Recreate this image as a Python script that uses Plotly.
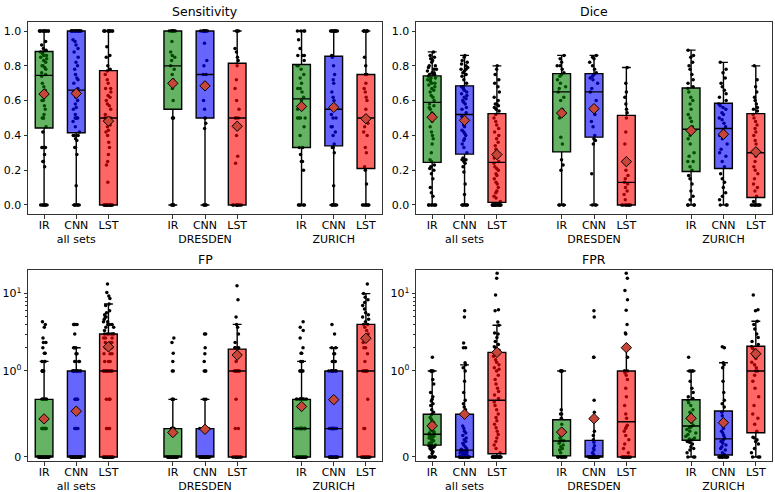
import numpy as np
import plotly.graph_objects as go

METHODS = ["IR", "CNN", "LST"]
SETS = ["all sets", "DRESDEN", "ZURICH"]
PANEL_TITLES = ["Sensitivity", "Dice", "FP", "FPR"]

# ---------------- Sensitivity ----------------
S_ALL_IR = [0.0]*7 + [0.22, 0.25, 0.25, 0.29, 0.33, 0.33, 0.33, 0.42, 0.45, 0.5, 0.5,
            0.5, 0.52, 0.55, 0.57, 0.6, 0.6, 0.62, 0.64, 0.66, 0.68, 0.7, 0.74, 0.75,
            0.76, 0.78, 0.79, 0.8, 0.8, 0.82, 0.83, 0.84, 0.85, 0.86, 0.86, 0.87, 0.88, 0.88,
            0.89, 0.9, 0.92, 0.94] + [1.0]*11
S_ALL_CNN = [0.0]*6 + [0.11, 0.29, 0.33, 0.33, 0.37, 0.38, 0.4, 0.4, 0.4, 0.42, 0.45, 0.48,
             0.5, 0.5, 0.5, 0.5, 0.52, 0.55, 0.56, 0.58, 0.6, 0.62, 0.64, 0.65, 0.67, 0.7,
             0.72, 0.73, 0.75, 0.78, 0.8, 0.82, 0.85, 0.88, 0.9, 0.92, 0.94, 0.95] + [1.0]*16
S_ALL_LST = [0.0]*16 + [0.13, 0.23, 0.25, 0.29, 0.33, 0.36, 0.4, 0.42, 0.43, 0.45, 0.46, 0.48,
             0.5, 0.5, 0.5, 0.52, 0.55, 0.57, 0.58, 0.6, 0.62, 0.63, 0.65, 0.67, 0.67, 0.7,
             0.72, 0.75, 0.77, 0.78, 0.8, 0.85, 0.86, 0.91] + [1.0]*10
S_D_IR = [0.0]*4 + [0.5, 0.5, 0.5, 0.6, 0.67, 0.7, 0.72, 0.75, 0.78, 0.8, 0.83, 0.85, 0.86,
          0.88, 0.94] + [1.0]*8
S_D_CNN = [0.0]*4 + [0.44, 0.47, 0.5, 0.5, 0.55, 0.6, 0.67, 0.7, 0.75, 0.75, 0.8, 0.83,
           0.93] + [1.0]*10
S_D_LST = [0.0]*9 + [0.24, 0.28, 0.4, 0.5, 0.5, 0.5, 0.55, 0.6, 0.67, 0.72, 0.8, 0.83, 0.85,
           0.88, 0.9] + [1.0]*3
S_Z_IR = [0.0]*5 + [0.2, 0.25, 0.25, 0.29, 0.33, 0.33, 0.4, 0.45, 0.5, 0.5, 0.5, 0.5, 0.55,
          0.57, 0.6, 0.62, 0.65, 0.67, 0.67, 0.7, 0.73, 0.75, 0.78, 0.8, 0.8, 0.83, 0.86,
          0.86, 0.86, 0.9, 0.95] + [1.0]*4
S_Z_CNN = [0.0]*6 + [0.11, 0.3, 0.33, 0.33, 0.35, 0.4, 0.42, 0.45, 0.45, 0.5, 0.5, 0.52,
           0.55, 0.55, 0.57, 0.6, 0.62, 0.65, 0.7, 0.72, 0.75, 0.8, 0.85, 0.86] + [1.0]*9
S_Z_LST = [0.0]*7 + [0.12, 0.2, 0.22, 0.3, 0.33, 0.4, 0.42, 0.45, 0.47, 0.5, 0.5, 0.5, 0.55,
           0.6, 0.62, 0.65, 0.67, 0.7, 0.75, 0.75, 0.8, 0.85] + [1.0]*6

# ---------------- Dice ----------------
D_ALL_IR = [0.0]*7 + [0.05, 0.07, 0.1, 0.15, 0.18, 0.2, 0.21, 0.22, 0.23, 0.25, 0.26, 0.3,
            0.35, 0.38, 0.4, 0.42, 0.45, 0.48, 0.5, 0.52, 0.53, 0.55, 0.56, 0.57, 0.58, 0.6,
            0.62, 0.63, 0.65, 0.66, 0.67, 0.68, 0.69, 0.7, 0.7, 0.71, 0.72, 0.72, 0.73, 0.73,
            0.74, 0.75, 0.75, 0.76, 0.76, 0.77, 0.78, 0.78, 0.79, 0.8, 0.8, 0.82, 0.83, 0.84,
            0.85, 0.86, 0.88]
D_ALL_CNN = [0.0]*6 + [0.06, 0.12, 0.19, 0.22, 0.24, 0.25, 0.26, 0.26, 0.27, 0.3, 0.33, 0.35,
             0.37, 0.38, 0.4, 0.41, 0.42, 0.43, 0.45, 0.46, 0.48, 0.5, 0.5, 0.51, 0.53, 0.55,
             0.56, 0.58, 0.59, 0.6, 0.61, 0.62, 0.63, 0.64, 0.65, 0.66, 0.67, 0.68, 0.68, 0.7,
             0.72, 0.74, 0.75, 0.76, 0.77, 0.78, 0.78, 0.79, 0.8, 0.81, 0.82, 0.83, 0.85, 0.86]
D_ALL_LST = [0.0]*15 + [0.02, 0.04, 0.05, 0.07, 0.08, 0.1, 0.12, 0.13, 0.15, 0.17, 0.18, 0.2,
             0.21, 0.22, 0.24, 0.25, 0.27, 0.29, 0.3, 0.32, 0.34, 0.36, 0.38, 0.4, 0.42, 0.44,
             0.46, 0.48, 0.5, 0.52, 0.54, 0.55, 0.56, 0.57, 0.58, 0.58, 0.6, 0.62, 0.65, 0.68,
             0.7, 0.72, 0.75, 0.78, 0.8]
D_D_IR = [0.0]*4 + [0.2, 0.23, 0.26, 0.35, 0.39, 0.5, 0.55, 0.6, 0.62, 0.65, 0.67, 0.68, 0.7,
          0.72, 0.74, 0.75, 0.76, 0.78, 0.8, 0.8, 0.82, 0.84, 0.86]
D_D_CNN = [0.0]*3 + [0.18, 0.35, 0.37, 0.38, 0.4, 0.45, 0.48, 0.52, 0.55, 0.6, 0.65, 0.67, 0.7,
           0.72, 0.73, 0.74, 0.75, 0.76, 0.78, 0.8, 0.82, 0.84, 0.85, 0.86]
D_D_LST = [0.0]*8 + [0.03, 0.06, 0.08, 0.1, 0.12, 0.13, 0.15, 0.17, 0.2, 0.35, 0.42, 0.5, 0.53,
           0.55, 0.58, 0.62, 0.65, 0.7, 0.79]
D_Z_IR = [0.0]*4 + [0.03, 0.05, 0.08, 0.12, 0.15, 0.17, 0.2, 0.22, 0.25, 0.25, 0.28, 0.3, 0.35,
          0.38, 0.4, 0.42, 0.45, 0.48, 0.5, 0.52, 0.55, 0.58, 0.6, 0.62, 0.65, 0.67, 0.68, 0.7,
          0.72, 0.75, 0.78, 0.8, 0.82, 0.85, 0.86, 0.89]
D_Z_CNN = [0.0]*3 + [0.03, 0.05, 0.07, 0.1, 0.13, 0.15, 0.18, 0.22, 0.25, 0.28, 0.3, 0.32,
           0.35, 0.38, 0.4, 0.41, 0.43, 0.45, 0.47, 0.49, 0.5, 0.52, 0.53, 0.55, 0.56, 0.57,
           0.58, 0.6, 0.62, 0.64, 0.66, 0.68, 0.7, 0.73, 0.76, 0.78, 0.82]
D_Z_LST = [0.0]*9 + [0.02, 0.05, 0.08, 0.1, 0.12, 0.15, 0.18, 0.2, 0.22, 0.25, 0.28, 0.32,
           0.35, 0.37, 0.4, 0.42, 0.44, 0.46, 0.48, 0.5, 0.52, 0.54, 0.55, 0.56, 0.58, 0.6,
           0.62, 0.65, 0.68, 0.72, 0.8]

# ---------------- FP ----------------
FP_ALL_IR = [0.0]*62 + [0.33]*10 + [0.67]*8 + [1.0]*6 + [1.33]*3 + [1.7, 1.7, 2.0, 2.33,
             2.33, 2.67, 3.67, 4.0, 4.33]
FP_ALL_CNN = [0.0]*56 + [0.33]*4 + [0.67]*4 + [1.0]*10 + [1.33]*3 + [1.67]*2 + [2.0]*3 + \
             [3.0] + [4.0]*4
FP_ALL_LST = [0.0]*26 + [0.33]*4 + [0.67]*4 + [1.0]*16 + [1.33]*3 + [1.67]*3 + [2.0]*5 + \
             [2.33]*3 + [2.67]*3 + [3.0]*6 + [3.33, 3.67, 3.67, 4.0, 4.0, 4.0, 4.33, 4.33,
                                             4.67, 5.0, 5.0, 5.33, 5.67, 6.0, 7.0, 7.33,
                                             8.67, 9.33, 10.33, 13.33]
FP_D_IR = [0.0]*35 + [0.33]*10 + [0.67]*3 + [1.0]*2 + [1.33, 1.7, 2.33, 2.67]
FP_D_CNN = [0.0]*38 + [0.33]*14 + [0.67]*2 + [1.0]*3 + [1.33, 1.67, 2.0, 3.0, 3.0]
FP_D_LST = [0.0]*12 + [0.33]*2 + [0.67] + [1.0]*10 + [1.33] + [1.67]*2 + [2.0]*3 + \
           [2.33, 3.0, 3.67, 4.0, 5.0, 8.33, 12.67]
FP_Z_IR = [0.0]*24 + [0.33]*22 + [0.67]*16 + [1.0]*4 + [1.33]*2 + [1.7, 1.7, 2.0, 2.67, 3.33,
                                                                  3.67, 4.33]
FP_Z_CNN = [0.0]*15 + [0.33]*15 + [0.67]*8 + [1.0]*10 + [1.33]*2 + [1.67]*2 + [2.0]*2 + \
           [3.0, 4.0]
FP_Z_LST = [0.0]*13 + [0.33]*2 + [0.67] + [1.0]*9 + [1.33, 1.67, 2.0, 2.0, 2.33, 2.67, 2.67,
                                                     3.0, 3.33, 3.67, 4.0, 4.0, 4.33, 4.67,
                                                     5.0, 5.33, 5.67, 6.33, 7.0, 7.67, 8.33,
                                                     9.0, 10.0, 13.33]

# ---------------- FPR ----------------
FPR_ALL_IR = [0.0]*6 + [0.04, 0.06, 0.08, 0.1, 0.11, 0.12, 0.12, 0.13, 0.13, 0.14, 0.15, 0.16,
              0.17, 0.18, 0.19, 0.2, 0.21, 0.22, 0.23, 0.24, 0.24, 0.25, 0.25, 0.26, 0.27,
              0.28, 0.29, 0.3, 0.31, 0.33, 0.34, 0.35, 0.37, 0.38, 0.4, 0.42, 0.44, 0.46,
              0.49, 0.52, 0.55, 0.6, 0.62, 0.65, 0.67, 0.7, 0.75, 0.85, 0.9, 1.0, 1.0, 1.0,
              1.0, 1.5]
FPR_ALL_CNN = [0.0]*17 + [0.01, 0.02, 0.03, 0.03, 0.04, 0.04, 0.05, 0.05, 0.06, 0.06, 0.07,
               0.07, 0.08, 0.08, 0.09, 0.1, 0.12, 0.14, 0.16, 0.18, 0.2, 0.22, 0.25, 0.28,
               0.3, 0.33, 0.36, 0.48, 0.55, 0.58, 0.62, 0.66, 0.75, 0.88, 1.0, 1.1, 1.2, 1.28,
               2.0, 2.0, 2.3, 5.0, 6.0]
FPR_ALL_LST = [0.0]*15 + [0.05, 0.1, 0.14, 0.18, 0.22, 0.26, 0.3, 0.34, 0.38, 0.42, 0.46, 0.5,
               0.55, 0.6, 0.64, 0.68, 0.72, 0.76, 0.8, 0.85, 0.9, 0.95, 1.0, 1.05, 1.1, 1.2,
               1.3, 1.4, 1.55, 1.7, 1.85, 1.95, 2.05, 2.2, 2.4, 2.7, 3.0, 3.1, 3.9, 4.3, 6.0,
               6.2, 9.6, 15.8, 18.3]
FPR_D_IR = [0.0]*8 + [0.05, 0.08, 0.1, 0.12, 0.14, 0.16, 0.18, 0.19, 0.2, 0.22, 0.25, 0.28,
            0.32, 0.38, 0.45, 0.5, 0.5, 0.55, 1.0, 1.0, 1.0, 1.0]
FPR_D_CNN = [0.0]*22 + [0.03, 0.05, 0.08, 0.1, 0.13, 0.17, 0.2, 0.25, 0.3, 0.45, 0.52, 0.66,
             1.5, 1.5, 5.0, 6.0]
FPR_D_LST = [0.0]*12 + [0.05, 0.1, 0.15, 0.2, 0.25, 0.3, 0.33, 0.35, 0.37, 0.45, 0.5, 0.6,
             0.7, 0.8, 0.9, 0.95, 0.98, 1.0, 1.0, 1.0, 1.5, 2.0, 3.0, 3.1, 4.0, 6.1, 8.3,
             11.0, 15.8, 18.3]
FPR_Z_IR = [0.0]*3 + [0.05, 0.08, 0.1, 0.12, 0.15, 0.17, 0.18, 0.2, 0.21, 0.22, 0.24, 0.26,
            0.28, 0.3, 0.32, 0.34, 0.35, 0.37, 0.4, 0.42, 0.45, 0.5, 0.52, 0.55, 0.6, 0.63,
            0.66, 0.68, 0.7, 0.75, 0.8, 0.88, 1.0, 1.0, 1.0, 1.0, 1.5]
FPR_Z_CNN = [0.0]*10 + [0.03, 0.05, 0.08, 0.1, 0.12, 0.14, 0.16, 0.18, 0.19, 0.2, 0.22, 0.25,
             0.28, 0.3, 0.33, 0.36, 0.4, 0.44, 0.48, 0.52, 0.58, 0.62, 0.66, 0.75, 0.88, 1.1,
             1.2, 1.28, 2.0, 2.05]
FPR_Z_LST = [0.0]*3 + [0.05, 0.1, 0.15, 0.18, 0.2, 0.22, 0.23, 0.3, 0.38, 0.45, 0.5, 0.6, 0.7,
             0.8, 0.88, 0.95, 1.0, 1.0, 1.1, 1.2, 1.3, 1.45, 1.55, 1.7, 1.85, 1.95, 2.05, 2.2,
             2.4, 2.7, 3.0, 3.5, 4.0, 4.4, 6.0, 6.2, 9.6]

PANEL_DATA = [
    {"all sets": {"IR": S_ALL_IR, "CNN": S_ALL_CNN, "LST": S_ALL_LST},
     "DRESDEN": {"IR": S_D_IR, "CNN": S_D_CNN, "LST": S_D_LST},
     "ZURICH": {"IR": S_Z_IR, "CNN": S_Z_CNN, "LST": S_Z_LST}},
    {"all sets": {"IR": D_ALL_IR, "CNN": D_ALL_CNN, "LST": D_ALL_LST},
     "DRESDEN": {"IR": D_D_IR, "CNN": D_D_CNN, "LST": D_D_LST},
     "ZURICH": {"IR": D_Z_IR, "CNN": D_Z_CNN, "LST": D_Z_LST}},
    {"all sets": {"IR": FP_ALL_IR, "CNN": FP_ALL_CNN, "LST": FP_ALL_LST},
     "DRESDEN": {"IR": FP_D_IR, "CNN": FP_D_CNN, "LST": FP_D_LST},
     "ZURICH": {"IR": FP_Z_IR, "CNN": FP_Z_CNN, "LST": FP_Z_LST}},
    {"all sets": {"IR": FPR_ALL_IR, "CNN": FPR_ALL_CNN, "LST": FPR_ALL_LST},
     "DRESDEN": {"IR": FPR_D_IR, "CNN": FPR_D_CNN, "LST": FPR_D_LST},
     "ZURICH": {"IR": FPR_Z_IR, "CNN": FPR_Z_CNN, "LST": FPR_Z_LST}},
]
PANEL_SYMLOG = [False, False, True, True]

FILL = {"IR": "rgba(0,128,0,0.6)", "CNN": "rgba(0,0,255,0.6)", "LST": "rgba(255,0,0,0.6)"}
MEAN_COLOR = "rgb(200,70,55)"
FONT = "DejaVu Sans"

LINSCALE = 1.0 / (1.0 - 1.0 / 10.0)  # matplotlib symlog, linthresh=1, linscale=1


def symlog(v):
    v = np.asarray(v, dtype=float)
    return np.where(v <= 1.0, v * LINSCALE, LINSCALE + np.log10(np.maximum(v, 1.0)))


def ident(v):
    return np.asarray(v, dtype=float)


def box_stats(vals):
    a = np.asarray(vals, dtype=float)
    q1, med, q3 = np.percentile(a, [25, 50, 75])
    iqr = q3 - q1
    lo = a[a >= q1 - 1.5 * iqr].min()
    hi = a[a <= q3 + 1.5 * iqr].max()
    return q1, med, q3, lo, hi, a.mean()


def position(si, mi):
    return 1 + 4 * si + mi


W, H = 775, 492
XDOM = [[28 / W, 382 / W], [416 / W, 772 / W]]
YDOM = [[1 - 214 / H, 1 - 22 / H], [1 - 461 / H, 1 - 270 / H]]
XRANGE = [0.5, 11.5]
YRANGE_LIN = [-0.052, 1.052]
YRANGE_LOG = [-0.052, 2.416]

fig = go.Figure()
layout = {}
annotations = []

tickvals_x = [position(si, mi) for si in range(3) for mi in range(3)]
ticktext_x = []
for s in SETS:
    for m in METHODS:
        ticktext_x.append(m + "<br>" + s if m == "CNN" else m)

for k in range(1, 5):
    data = PANEL_DATA[k - 1]
    tf = symlog if PANEL_SYMLOG[k - 1] else ident
    xd = XDOM[(k - 1) % 2]
    yd = YDOM[(k - 1) // 2]
    xa = "x" if k == 1 else f"x{k}"
    ya = "y" if k == 1 else f"y{k}"
    xo, yo = f"x{k + 4}", f"y{k + 4}"
    yr = YRANGE_LOG if PANEL_SYMLOG[k - 1] else YRANGE_LIN

    # jittered sample points (under the boxes)
    for si, s in enumerate(SETS):
        for mi, m in enumerate(METHODS):
            vals = data[s][m]
            pos = position(si, mi)
            fig.add_trace(go.Box(
                x=[pos] * len(vals), y=tf(vals), boxpoints="all", jitter=0.6, pointpos=0,
                width=0.55, fillcolor="rgba(0,0,0,0)", line=dict(width=0, color="rgba(0,0,0,0)"),
                marker=dict(color="black", size=3.5), xaxis=xa, yaxis=ya,
                showlegend=False, hoverinfo="skip"))

    # boxes on an overlay subplot, drawn above the points
    for mi, m in enumerate(METHODS):
        xs, q1s, meds, q3s, los, his, means = [], [], [], [], [], [], []
        for si, s in enumerate(SETS):
            q1, med, q3, lo, hi, mean = box_stats(data[s][m])
            xs.append(position(si, mi))
            q1s.append(float(tf([q1])[0]))
            meds.append(float(tf([med])[0]))
            q3s.append(float(tf([q3])[0]))
            los.append(float(tf([lo])[0]))
            his.append(float(tf([hi])[0]))
            means.append(float(tf([mean])[0]))
        fig.add_trace(go.Box(
            x=xs, q1=q1s, median=meds, q3=q3s, lowerfence=los, upperfence=his,
            orientation="v", boxpoints=False, width=0.55, whiskerwidth=0.5,
            fillcolor=FILL[m], line=dict(color="black", width=1.4),
            xaxis=xo, yaxis=yo, showlegend=False, hoverinfo="skip"))
        fig.add_trace(go.Scatter(
            x=xs, y=means, mode="markers",
            marker=dict(symbol="diamond", size=8, color=MEAN_COLOR,
                        line=dict(color="black", width=1)),
            xaxis=xo, yaxis=yo, showlegend=False, hoverinfo="skip"))

    axis_common = dict(showline=True, linecolor="#333", linewidth=1, mirror=True,
                       ticks="outside", ticklen=3.5, tickcolor="#333", showgrid=False,
                       zeroline=False, automargin=False,
                       tickfont=dict(family=FONT, size=11, color="black"))
    layout["xaxis" if k == 1 else f"xaxis{k}"] = dict(
        domain=xd, range=XRANGE, anchor=ya, tickmode="array", tickvals=tickvals_x,
        ticktext=ticktext_x, tickangle=0, ticklabelstandoff=-3, **axis_common)
    if PANEL_SYMLOG[k - 1]:
        yt = dict(tickmode="array", tickvals=list(symlog([0, 1, 10])),
                  ticktext=["0", "10<sup>0</sup>", "10<sup>1</sup>"],
                  minor=dict(tickmode="array", tickvals=list(symlog([2, 3, 4, 5, 6, 7, 8, 9])),
                             ticklen=2, ticks="outside", tickcolor="#333"))
    else:
        yt = dict(tickmode="array", tickvals=[0, 0.2, 0.4, 0.6, 0.8, 1.0],
                  ticktext=["0.0", "0.2", "0.4", "0.6", "0.8", "1.0"])
    layout["yaxis" if k == 1 else f"yaxis{k}"] = dict(
        domain=yd, range=yr, anchor=xa, **yt, **axis_common)
    layout[f"xaxis{k + 4}"] = dict(overlaying=xa, range=XRANGE, anchor=yo, visible=False,
                                   automargin=False)
    layout[f"yaxis{k + 4}"] = dict(overlaying=ya, range=yr, anchor=xo, visible=False,
                                   automargin=False)

    annotations.append(dict(text=PANEL_TITLES[k - 1], x=(xd[0] + xd[1]) / 2, y=yd[1],
                            xref="paper", yref="paper", xanchor="center", yanchor="bottom",
                            yshift=1, showarrow=False,
                            font=dict(family=FONT, size=12.5, color="black")))

fig.update_layout(
    width=W, height=H, margin=dict(l=0, r=0, t=0, b=0, autoexpand=False),
    paper_bgcolor="white", plot_bgcolor="white", showlegend=False,
    font=dict(family=FONT, size=11, color="black"), hovermode=False,
    boxmode="overlay", annotations=annotations, **layout)

fig.write_html("out.html", config={"displayModeBar": False, "staticPlot": True},
               post_script="document.body.style.margin='0';document.body.style.padding='0';")
